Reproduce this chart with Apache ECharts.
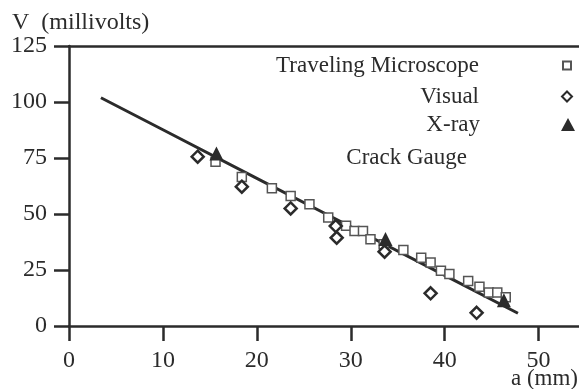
<!DOCTYPE html>
<html>
<head>
<meta charset="utf-8">
<script src="https://cdn.jsdelivr.net/npm/echarts@6/dist/echarts.min.js"></script>
<style>
  html, body { margin: 0; padding: 0; background: #fff; }
  #chart { width: 579px; height: 389px; }
</style>
</head>
<body>
<div id="chart"></div>
<script>
// crack length a (mm) vs potential V (millivolts)
const microscopeData = [
  [15.6, 73.3], [18.4, 66.5], [21.6, 61.5], [23.6, 58.0], [25.6, 54.3],
  [27.6, 48.4], [29.5, 44.7], [30.4, 42.4], [31.3, 42.4], [32.1, 38.7],
  [33.5, 36.5], [35.6, 33.9], [37.5, 30.5], [38.5, 28.3], [39.6, 24.7],
  [40.5, 23.2], [42.5, 20.1], [43.7, 17.5], [44.7, 14.9], [45.6, 14.9],
  [46.5, 12.8]
]
const visualData = [
  [13.7, 75.6], [18.4, 62.2], [23.6, 52.5], [28.4, 44.6], [28.5, 39.4],
  [33.6, 33.2], [38.5, 14.6], [43.4, 5.9]
]
const xrayData = [[15.7, 77.0], [33.7, 38.8], [46.3, 11.5]]
const crackGaugeData = [
  [3.4, 101.9], [10, 87.6], [20, 65.9], [30, 44.3], [40, 22.6], [47.8, 5.7]
]
const xTicks = [0, 10, 20, 30, 40, 50]
const yTicks = [0, 25, 50, 75, 100, 125]

const ink = '#2b2b2b'
const serif = '"Liberation Serif", "Times New Roman", serif'

const chart = echarts.init(document.getElementById('chart'))

const legendBase = {
  orient: 'vertical',
  align: 'right',
  padding: 0,
  selectedMode: false,
  textStyle: { fontFamily: serif, fontSize: 23, color: ink }
}

const titleText = { fontFamily: serif, fontWeight: 'normal', color: ink }

chart.setOption({
  backgroundColor: '#fff',
  animation: false,
  // axis titles
  title: [
    {
      text: 'V  (millivolts)',
      left: 12,
      top: 11,
      padding: 0,
      textStyle: { ...titleText, fontSize: 24 }
    },
    {
      text: 'a (mm)',
      right: 1,
      top: 367,
      padding: 0,
      textStyle: { ...titleText, fontSize: 23 }
    }
  ],
  legend: [
    {
      ...legendBase,
      data: ['Traveling Microscope'],
      right: 7, top: 54,
      itemWidth: 8, itemHeight: 8,
      textStyle: { ...legendBase.textStyle, padding: [0, 79, 0, 0] }
    },
    {
      ...legendBase,
      data: ['Visual'],
      right: 6, top: 85,
      itemWidth: 10, itemHeight: 10,
      textStyle: { ...legendBase.textStyle, padding: [0, 78, 0, 0] }
    },
    {
      ...legendBase,
      data: ['X-ray'],
      right: 4, top: 113,
      itemWidth: 14, itemHeight: 13,
      textStyle: { ...legendBase.textStyle, padding: [0, 76, 0, 0] }
    },
    {
      ...legendBase,
      data: [{ name: 'Crack Gauge', icon: 'none' }],
      right: 107, top: 146,
      itemWidth: 0, itemHeight: 10
    }
  ],
  grid: { left: 69, right: 0, top: 46, bottom: 63, containLabel: false, outerBoundsMode: 'none' },
  xAxis: [
    {
      type: 'value',
      min: 0,
      max: 54.3,
      axisLine: { onZero: false, lineStyle: { color: ink, width: 2.5 } },
      axisTick: { length: 15, customValues: xTicks, lineStyle: { color: ink, width: 2.5 } },
      axisLabel: {
        customValues: xTicks, margin: 23,
        fontFamily: serif, fontSize: 24, color: ink
      },
      splitLine: { show: false }
    },
    {
      type: 'value',
      position: 'top',
      min: 0,
      max: 54.3,
      axisLine: { onZero: false, lineStyle: { color: ink, width: 2.5 } },
      axisTick: { show: false },
      axisLabel: { show: false },
      splitLine: { show: false }
    }
  ],
  yAxis: {
    type: 'value',
    min: 0,
    max: 125,
    interval: 25,
    axisLine: { show: true, onZero: false, lineStyle: { color: ink, width: 2.5 } },
    axisTick: { show: true, length: 15, lineStyle: { color: ink, width: 2.5 } },
    axisLabel: {
      customValues: yTicks, margin: 22,
      fontFamily: serif, fontSize: 24, color: ink
    },
    splitLine: { show: false }
  },
  series: [
    {
      name: 'Crack Gauge',
      type: 'line',
      data: crackGaugeData,
      symbol: 'none',
      z: 1,
      lineStyle: { color: ink, width: 3 },
      itemStyle: { color: ink }
    },
    {
      name: 'Traveling Microscope',
      type: 'scatter',
      data: microscopeData,
      symbol: 'rect',
      symbolSize: 9,
      z: 3,
      itemStyle: { color: '#fff', borderColor: '#555', borderWidth: 1.5, opacity: 1 }
    },
    {
      name: 'Visual',
      type: 'scatter',
      data: visualData,
      symbol: 'diamond',
      symbolSize: 12,
      z: 4,
      itemStyle: { color: '#fff', borderColor: ink, borderWidth: 2.5, opacity: 1 }
    },
    {
      name: 'X-ray',
      type: 'scatter',
      data: xrayData,
      symbol: 'triangle',
      symbolSize: 14,
      z: 5,
      itemStyle: { color: ink, opacity: 1 }
    }
  ]
})
</script>
</body>
</html>
